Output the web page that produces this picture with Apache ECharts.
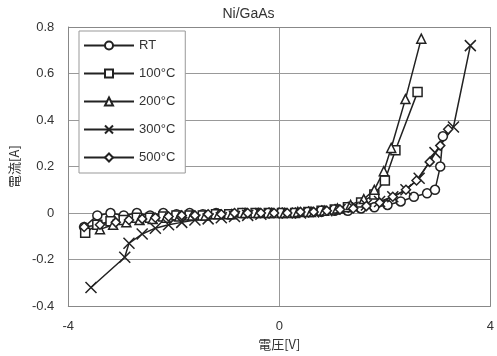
<!DOCTYPE html>
<html>
<head>
<meta charset="utf-8">
<script src="https://cdn.jsdelivr.net/npm/echarts@6/dist/echarts.min.js"></script>
<style>
  html, body { margin: 0; padding: 0; background: #fff; }
  #chart { width: 497px; height: 356px; }
</style>
</head>
<body>
<div id="chart"></div>
<script>
// 系列名
var seriesNames = ['RT', '100°C', '200°C', '300°C', '500°C'];
var xTicks = [-4, 0, 4];
var yTicks = [-0.4, -0.2, 0, 0.2, 0.4, 0.6, 0.8];

// [電圧 V, 電流 A]
var rtData = [[-3.7,-0.06],[-3.45,-0.01],[-3.2,0.0],[-2.95,-0.01],[-2.7,0.0],[-2.45,-0.01],[-2.2,0.0],[-1.95,-0.005],[-1.7,0.0],[-1.45,-0.005],[-1.2,0.0],[-0.95,-0.005],[-0.7,0.0],[-0.45,0.0],[-0.2,0.0],[0.05,0.0],[0.3,0.0],[0.55,0.005],[0.8,0.005],[1.05,0.01],[1.3,0.01],[1.55,0.02],[1.8,0.025],[2.05,0.035],[2.3,0.05],[2.55,0.07],[2.8,0.085],[2.95,0.1],[3.05,0.2],[3.1,0.33]];
var d100 = [[-3.68,-0.085],[-3.45,-0.05],[-3.2,-0.035],[-2.95,-0.03],[-2.7,-0.02],[-2.45,-0.02],[-2.2,-0.015],[-1.95,-0.01],[-1.7,-0.01],[-1.45,-0.01],[-1.2,-0.005],[-0.95,-0.005],[-0.7,0],[-0.45,0],[-0.2,0],[0.05,0],[0.3,0],[0.55,0.005],[0.8,0.01],[1.05,0.015],[1.3,0.025],[1.55,0.045],[1.8,0.08],[2.0,0.14],[2.2,0.27],[2.62,0.52]];
var d200 = [[-3.4,-0.07],[-3.15,-0.05],[-2.9,-0.04],[-2.65,-0.03],[-2.4,-0.025],[-2.15,-0.02],[-1.9,-0.015],[-1.65,-0.01],[-1.4,-0.01],[-1.15,-0.005],[-0.9,-0.005],[-0.65,0],[-0.4,0],[-0.15,0],[0.1,0],[0.35,0.005],[0.6,0.005],[0.85,0.01],[1.1,0.02],[1.35,0.035],[1.6,0.06],[1.8,0.1],[1.98,0.18],[2.12,0.28],[2.39,0.49],[2.69,0.75]];
var d300 = [[-3.57,-0.32],[-2.93,-0.19],[-2.85,-0.13],[-2.6,-0.09],[-2.35,-0.065],[-2.1,-0.05],[-1.85,-0.04],[-1.6,-0.03],[-1.35,-0.025],[-1.1,-0.02],[-0.85,-0.015],[-0.6,-0.01],[-0.35,-0.005],[-0.1,0],[0.15,0],[0.4,0],[0.65,0.005],[0.9,0.01],[1.15,0.015],[1.4,0.025],[1.65,0.035],[1.9,0.05],[2.15,0.07],[2.4,0.1],[2.65,0.15],[2.95,0.26],[3.3,0.37],[3.62,0.72]];
var d500 = [[-3.7,-0.06],[-3.4,-0.05],[-3.1,-0.04],[-2.85,-0.03],[-2.6,-0.025],[-2.35,-0.02],[-2.1,-0.015],[-1.85,-0.01],[-1.6,-0.01],[-1.35,-0.005],[-1.1,-0.005],[-0.85,0],[-0.6,0],[-0.35,0],[-0.1,0],[0.15,0],[0.4,0.005],[0.65,0.005],[0.9,0.01],[1.15,0.015],[1.4,0.02],[1.65,0.03],[1.9,0.045],[2.15,0.07],[2.4,0.1],[2.6,0.14],[2.85,0.22],[3.05,0.29],[3.2,0.36]];

var allData = [rtData, d100, d200, d300, d500];
var symbols = ['circle', 'rect', 'triangle', 'path://M0,0L10,10M10,0L0,10', 'diamond'];

var chart = echarts.init(document.getElementById('chart'));

var series = seriesNames.map(function (name, i) {
    return {
        name: name,
        type: 'line',
        data: allData[i],
        symbol: symbols[i],
        symbolSize: i === 3 ? 11 : 9,
        showAllSymbol: true,
        lineStyle: { color: '#222', width: 1.5 },
        itemStyle: { color: '#fff', borderColor: '#222', borderWidth: 1.5 },
        emphasis: { disabled: true }
    };
});

chart.setOption({
    animation: false,
    title: {
        text: 'Ni/GaAs',
        left: 'center',
        top: 2,
        textStyle: { fontSize: 14, fontWeight: 'normal', color: '#333', fontFamily: 'Liberation Sans' }
    },
    legend: {
        orient: 'vertical',
        left: 79,
        top: 31,
        width: 110,
        itemWidth: 50,
        itemHeight: 10,
        itemGap: 15,
        padding: [8, 10, 9, 4],
        backgroundColor: '#fff',
        borderColor: '#999',
        borderWidth: 1,
        textStyle: { fontSize: 13, color: '#333', fontFamily: 'Liberation Sans' },
        data: seriesNames
    },
    grid: { left: 65, right: 4, top: 27, bottom: 44 },
    xAxis: {
        type: 'value',
        min: -4,
        max: 4,
        interval: 4,
        name: '電圧[V]',
        nameLocation: 'middle',
        nameGap: 18,
        nameTextStyle: { fontSize: 13, color: '#333', fontFamily: 'Noto Sans CJK JP' },
        axisLine: { show: true, onZero: false, lineStyle: { color: '#888' } },
        axisTick: { show: false },
        axisLabel: { fontSize: 13, color: '#333', margin: 14, fontFamily: 'Liberation Sans' },
        splitLine: { show: true, lineStyle: { color: '#999' } }
    },
    yAxis: {
        type: 'value',
        min: -0.4,
        max: 0.8,
        interval: 0.2,
        name: '電流[A]',
        nameLocation: 'middle',
        nameGap: 46,
        nameTextStyle: { fontSize: 13, color: '#333', fontFamily: 'Noto Sans CJK JP' },
        axisLine: { show: true, onZero: false, lineStyle: { color: '#888' } },
        axisTick: { show: false },
        axisLabel: {
            fontSize: 13, color: '#333', margin: 14, fontFamily: 'Liberation Sans',
            formatter: function (v) { return String(Math.round(v * 10) / 10); }
        },
        splitLine: { show: true, lineStyle: { color: '#999' } }
    },
    series: series.concat([{
        // 外枠
        type: 'line',
        data: [],
        markLine: {
            silent: true,
            symbol: 'none',
            label: { show: false },
            lineStyle: { color: '#888', type: 'solid', width: 1 },
            data: [{ xAxis: 4 }, { yAxis: 0.8 }]
        }
    }])
});
</script>
</body>
</html>
